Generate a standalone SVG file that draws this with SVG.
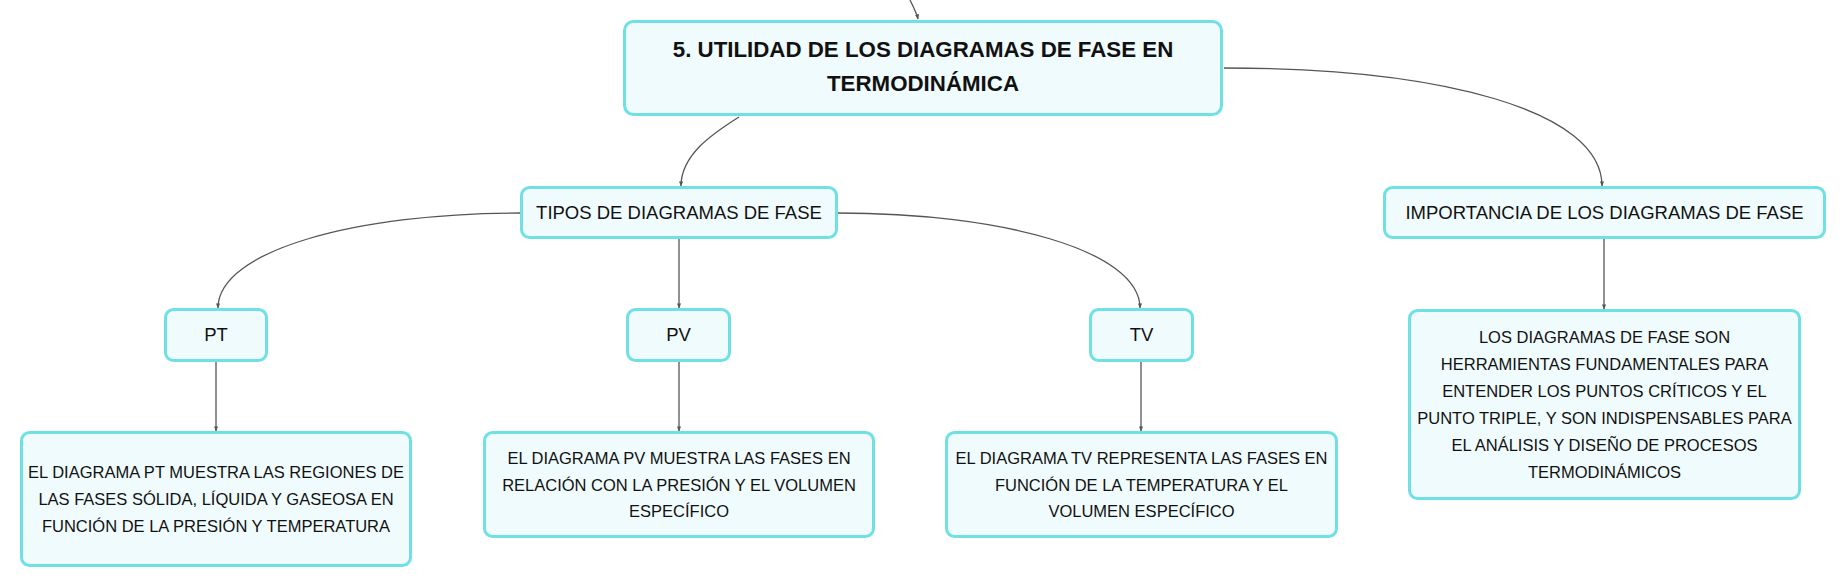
<svg xmlns="http://www.w3.org/2000/svg" width="1846" height="586" viewBox="0 0 1846 586">
<defs>
<marker id="arr" viewBox="0 0 6 6" refX="5.5" refY="3" markerWidth="5" markerHeight="5" markerUnits="userSpaceOnUse" orient="auto">
<path d="M0,0.5 L6,3 L0,5.5 Z" fill="#555"/>
</marker>
<style>
.box{fill:#effbfc;stroke:#6fe0e3;stroke-width:3}
.c{fill:none;stroke:#555;stroke-width:1.3;marker-end:url(#arr)}
text{font-family:"Liberation Sans",Arial,sans-serif;fill:#111;text-anchor:middle}
.t{font-size:22.3px;font-weight:bold}
.l{font-size:18.5px}
.d{font-size:16.5px}
</style>
</defs>
<rect width="1846" height="586" fill="#ffffff"/>
<g id="connectors">
<path class="c" d="M910,0 C914,8 917,14 918,19"/>
<path class="c" d="M739,117 C712,134 681,155 681,186"/>
<path class="c" d="M1224,68 C1440,68 1602,110 1602,186"/>
<path class="c" d="M520,213 C358,213 218,250 218,308"/>
<path class="c" d="M679,239 L679,308"/>
<path class="c" d="M838,213 C1000,213 1140,250 1140,308"/>
<path class="c" d="M216,362 L216,431"/>
<path class="c" d="M679,362 L679,431"/>
<path class="c" d="M1141,362 L1141,431"/>
<path class="c" d="M1604,239 L1604,309"/>
</g>
<g id="main">
<rect class="box" x="624.5" y="21.5" width="597" height="93" rx="9"/>
<text class="t" x="923" y="57">5. UTILIDAD DE LOS DIAGRAMAS DE FASE EN</text>
<text class="t" x="923" y="91">TERMODINÁMICA</text>
</g>
<g id="tipos">
<rect class="box" x="521.5" y="187.5" width="315" height="50" rx="8"/>
<text class="l" x="679" y="219">TIPOS DE DIAGRAMAS DE FASE</text>
</g>
<g id="importancia">
<rect class="box" x="1384.5" y="187.5" width="440" height="50" rx="8"/>
<text class="l" x="1604.5" y="219">IMPORTANCIA DE LOS DIAGRAMAS DE FASE</text>
</g>
<g id="pt">
<rect class="box" x="165.5" y="309.5" width="101" height="51" rx="8"/>
<text class="l" x="216" y="341">PT</text>
</g>
<g id="pv">
<rect class="box" x="627.5" y="309.5" width="102" height="51" rx="8"/>
<text class="l" x="678.5" y="341">PV</text>
</g>
<g id="tv">
<rect class="box" x="1090.5" y="309.5" width="102" height="51" rx="8"/>
<text class="l" x="1141.5" y="341">TV</text>
</g>
<g id="pt-desc">
<rect class="box" x="21.5" y="432.5" width="389" height="133" rx="8"/>
<text class="d" x="216" y="478">EL DIAGRAMA PT MUESTRA LAS REGIONES DE</text>
<text class="d" x="216" y="505">LAS FASES SÓLIDA, LÍQUIDA Y GASEOSA EN</text>
<text class="d" x="216" y="532">FUNCIÓN DE LA PRESIÓN Y TEMPERATURA</text>
</g>
<g id="pv-desc">
<rect class="box" x="484.5" y="432.5" width="389" height="104" rx="8"/>
<text class="d" x="679" y="464">EL DIAGRAMA PV MUESTRA LAS FASES EN</text>
<text class="d" x="679" y="491">RELACIÓN CON LA PRESIÓN Y EL VOLUMEN</text>
<text class="d" x="679" y="517">ESPECÍFICO</text>
</g>
<g id="tv-desc">
<rect class="box" x="946.5" y="432.5" width="390" height="104" rx="8"/>
<text class="d" x="1141.5" y="464">EL DIAGRAMA TV REPRESENTA LAS FASES EN</text>
<text class="d" x="1141.5" y="491">FUNCIÓN DE LA TEMPERATURA Y EL</text>
<text class="d" x="1141.5" y="517">VOLUMEN ESPECÍFICO</text>
</g>
<g id="importancia-desc">
<rect class="box" x="1409.5" y="310.5" width="390" height="188" rx="8"/>
<text class="d" x="1604.5" y="343">LOS DIAGRAMAS DE FASE SON</text>
<text class="d" x="1604.5" y="370">HERRAMIENTAS FUNDAMENTALES PARA</text>
<text class="d" x="1604.5" y="397">ENTENDER LOS PUNTOS CRÍTICOS Y EL</text>
<text class="d" x="1604.5" y="424">PUNTO TRIPLE, Y SON INDISPENSABLES PARA</text>
<text class="d" x="1604.5" y="451">EL ANÁLISIS Y DISEÑO DE PROCESOS</text>
<text class="d" x="1604.5" y="478">TERMODINÁMICOS</text>
</g>
</svg>
